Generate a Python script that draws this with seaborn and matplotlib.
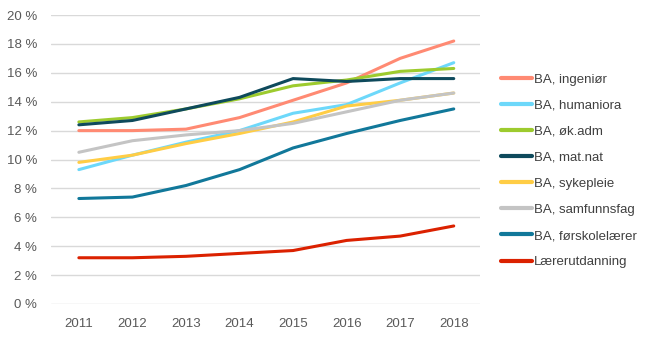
import matplotlib
matplotlib.use("Agg")
import matplotlib.pyplot as plt
import seaborn as sns
import pandas as pd
from matplotlib.ticker import FuncFormatter

years = [2011, 2012, 2013, 2014, 2015, 2016, 2017, 2018]
series_names = ["BA, ingeniør", "BA, humaniora", "BA, øk.adm", "BA, mat.nat",
                "BA, sykepleie", "BA, samfunnsfag", "BA, førskolelærer", "Lærerutdanning"]
ingenior = [12.0, 12.0, 12.1, 12.9, 14.1, 15.3, 17.0, 18.2]
humaniora = [9.3, 10.3, 11.2, 12.0, 13.2, 13.8, 15.3, 16.7]
okadm = [12.6, 12.9, 13.5, 14.2, 15.1, 15.5, 16.1, 16.3]
matnat = [12.4, 12.7, 13.5, 14.3, 15.6, 15.4, 15.6, 15.6]
sykepleie = [9.8, 10.3, 11.1, 11.8, 12.6, 13.7, 14.1, 14.6]
samfunnsfag = [10.5, 11.3, 11.7, 12.0, 12.5, 13.3, 14.1, 14.6]
forskole = [7.3, 7.4, 8.2, 9.3, 10.8, 11.8, 12.7, 13.5]
laerer = [3.2, 3.2, 3.3, 3.5, 3.7, 4.4, 4.7, 5.4]
colors = ["#FF8A73", "#6DD8FA", "#9DCB2E", "#0E4A5C",
          "#FFCD45", "#C4C4C4", "#11789A", "#DB2100"]

values = [ingenior, humaniora, okadm, matnat, sykepleie, samfunnsfag, forskole, laerer]
rows = []
for name, vals in zip(series_names, values):
    for y, v in zip(years, vals):
        rows.append({"year": y, "value": v, "series": name})
df = pd.DataFrame(rows)

sns.set_theme(style="white")
plt.rcParams["font.family"] = ["Liberation Sans", "DejaVu Sans"]

fig = plt.figure(figsize=(6.47, 3.40), dpi=100)
ax = fig.add_axes([51/647, 1 - 304/340, (480-51)/647, (304-15)/340])

sns.lineplot(data=df, x="year", y="value", hue="series", hue_order=series_names,
             palette=colors, linewidth=2.2, ax=ax, legend=True)

ax.set_xlim(2010.48, 2018.49)
ax.set_ylim(0, 20)
ax.set_yticks(range(0, 21, 2))
ax.yaxis.set_major_formatter(FuncFormatter(lambda v, p: f"{int(v)} %"))
ax.set_xticks(years)
ax.grid(axis="y", color="#D9D9D9", linewidth=1)
ax.set_axisbelow(True)
for s in ax.spines.values():
    s.set_visible(False)
ax.tick_params(axis="both", length=0, labelsize=9.5, colors="#595959")
ax.tick_params(axis="y", pad=10)
ax.tick_params(axis="x", pad=10)
ax.set_xlabel("")
ax.set_ylabel("")

leg = ax.legend(loc="upper left", bbox_to_anchor=(496/647, 1 - 68/340),
                bbox_transform=fig.transFigure, frameon=False, fontsize=9.5,
                handlelength=2.3, handletextpad=0.15, labelspacing=1.05,
                borderaxespad=0)
for t in leg.get_texts():
    t.set_color("#404040")
for l in leg.get_lines():
    l.set_linewidth(3)

fig.savefig("out.png", dpi=100)
